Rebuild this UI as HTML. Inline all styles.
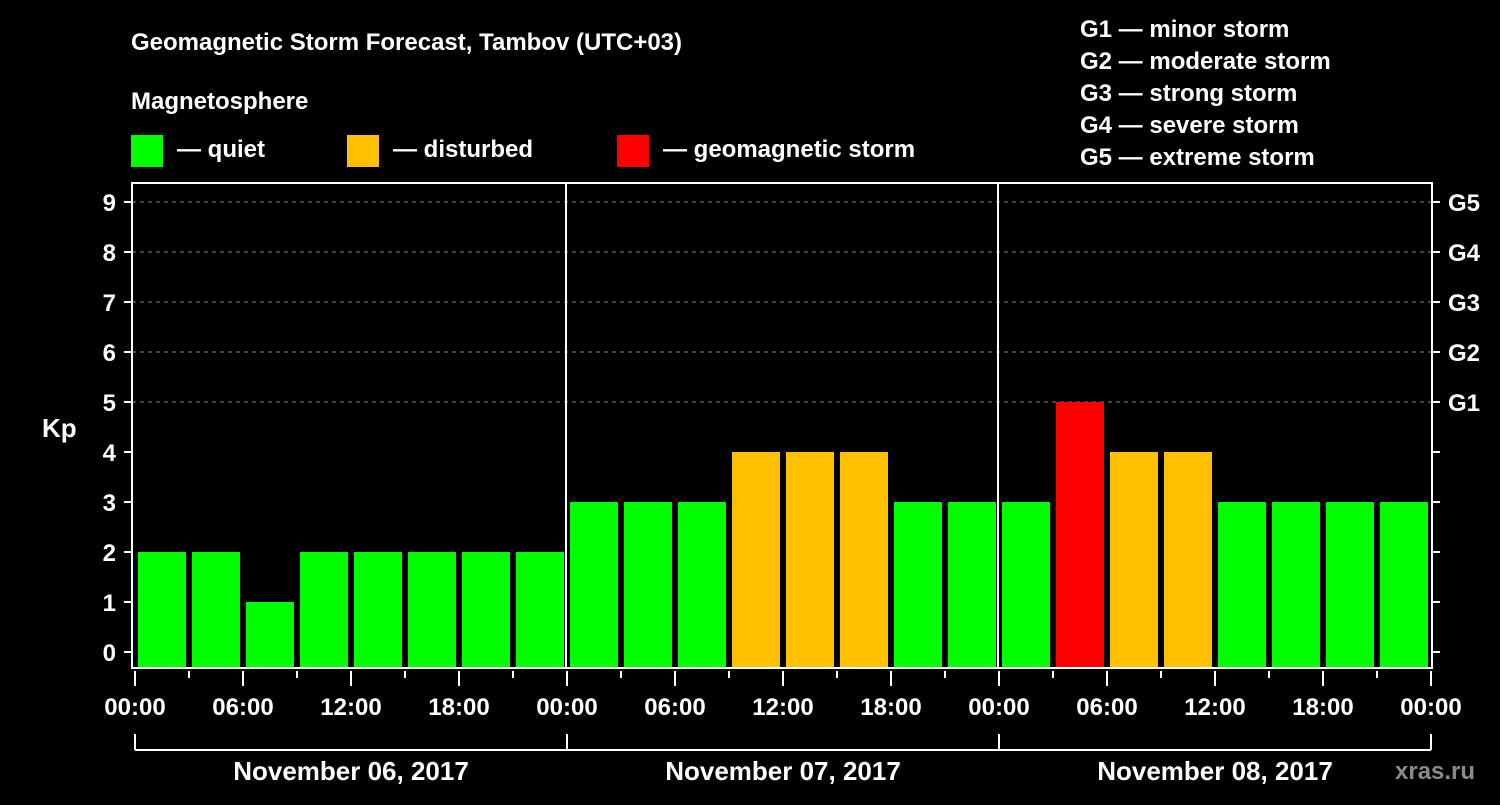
<!DOCTYPE html>
<html><head><meta charset="utf-8"><style>
body{margin:0;background:#000;}
svg text{font-family:"Liberation Sans",sans-serif;font-weight:bold;fill:#fff;}
</style></head><body>
<svg id="c" width="1500" height="800" xmlns="http://www.w3.org/2000/svg">
<rect width="1500" height="800" fill="#000"/>
<text x="131" y="50" font-size="24">Geomagnetic Storm Forecast, Tambov (UTC+03)</text>
<text x="131" y="109" font-size="24">Magnetosphere</text>
<g><rect x="131" y="135" width="32" height="32" fill="#00ff00"/><text x="177" y="157" font-size="24">— quiet</text></g>
<g><rect x="347" y="135" width="32" height="32" fill="#ffc000"/><text x="393" y="157" font-size="24">— disturbed</text></g>
<g><rect x="617" y="135" width="32" height="32" fill="#ff0000"/><text x="663" y="157" font-size="24">— geomagnetic storm</text></g>
<g font-size="24">
<text x="1080" y="37">G1 — minor storm</text>
<text x="1080" y="69">G2 — moderate storm</text>
<text x="1080" y="101">G3 — strong storm</text>
<text x="1080" y="133">G4 — severe storm</text>
<text x="1080" y="165">G5 — extreme storm</text>
</g>
<text x="42" y="437" font-size="26">Kp</text>
<text x="1395" y="779" font-size="24" fill="#888" style="fill:#8a8a8a">xras.ru</text>
<g id="grid"></g><g id="bars"></g><g id="axes"></g>
</svg>
<script>
const values=[2,2,1,2,2,2,2,2,3,3,3,4,4,4,3,3,3,5,4,4,3,3,3,3];
const days=["November 06, 2017","November 07, 2017","November 08, 2017"];
const hourLabels=["00:00","06:00","12:00","18:00"];
const yTicks=[0,1,2,3,4,5,6,7,8,9];
const gLabels=["G1","G2","G3","G4","G5"];
const NS="http://www.w3.org/2000/svg";
const X0=134,SLOT=54,Y0=652,UNIT=50,TOP=183,BOT=668,RIGHT=1432;
const x=h=>X0+h*SLOT/3;
const y=v=>Y0-v*UNIT;
function mk(tag,attrs,parent,txt){const e=document.createElementNS(NS,tag);for(const k in attrs)e.setAttribute(k,attrs[k]);if(txt!==undefined)e.textContent=txt;parent.appendChild(e);return e;}
const grid=document.getElementById('grid'),bars=document.getElementById('bars'),axes=document.getElementById('axes');
yTicks.forEach(v=>{if(v>=5){const l=mk('line',{x1:132,x2:RIGHT,y1:y(v),y2:y(v),stroke:'#888','stroke-dasharray':'4,4','stroke-width':1},grid);

}});
values.forEach((v,i)=>{const c=v>=5?'#ff0000':(v>=4?'#ffc000':'#00ff00');
const r=mk('rect',{x:x(i*3)+4,y:y(v),width:48,height:BOT-y(v),fill:c},bars);

});
mk('rect',{x:132,y:TOP,width:RIGHT-132,height:BOT-TOP,fill:'none',stroke:'#fff','stroke-width':2},axes);
for(let d=1;d<3;d++)mk('line',{x1:x(d*24),x2:x(d*24),y1:TOP,y2:BOT,stroke:'#fff','stroke-width':2},axes);
yTicks.forEach(v=>{mk('line',{x1:124,x2:132,y1:y(v),y2:y(v),stroke:'#fff','stroke-width':2},axes);
mk('line',{x1:RIGHT,x2:RIGHT+8,y1:y(v),y2:y(v),stroke:'#fff','stroke-width':2},axes);
const t=mk('text',{x:116,y:y(v)+9,'font-size':24,'text-anchor':'end'},axes,String(v));

});
gLabels.forEach((g,i)=>{const t=mk('text',{x:1448,y:y(5+i)+9,'font-size':24},axes,g);

});
for(let h=0;h<=72;h+=3){const xx=x(h)+1;mk('line',{x1:xx,x2:xx,y1:671,y2:(h%6===0?686:678),stroke:'#fff','stroke-width':2},axes);
if(h%6===0){const t=mk('text',{x:xx,y:715,'font-size':24,'text-anchor':'middle'},axes,hourLabels[(h/6)%4]);

}}
mk('line',{x1:x(0)+1,x2:x(72)+1,y1:750,y2:750,stroke:'#fff','stroke-width':2},axes);
for(let d=0;d<=3;d++)mk('line',{x1:x(d*24)+1,x2:x(d*24)+1,y1:734,y2:750,stroke:'#fff','stroke-width':2},axes);
days.forEach((s,d)=>{const t=mk('text',{x:x(d*24+12)+1,y:780,'font-size':26,'text-anchor':'middle'},axes,s);

});
</script>
</body></html>
